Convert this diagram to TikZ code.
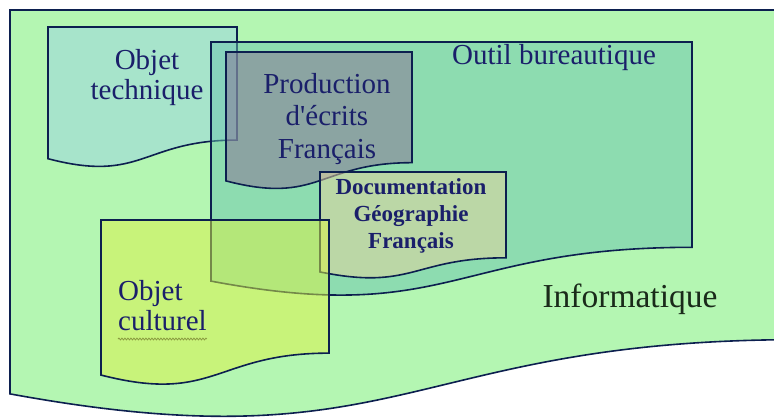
\documentclass[tikz,border=0pt]{standalone}
\usepackage{fontspec}
\setmainfont{Liberation Serif}
\usetikzlibrary{decorations.pathmorphing}

\definecolor{infogreen}{HTML}{B4F6B2}
\definecolor{outilteal}{HTML}{68C4B0}
\definecolor{techblue}{HTML}{9CD4E4}
\definecolor{prodgray}{HTML}{8A6E96}
\definecolor{docbeige}{HTML}{EAD49E}
\definecolor{cultyellow}{HTML}{DCF244}
\definecolor{edgenavy}{HTML}{0C1F4F}
\definecolor{labelnavy}{HTML}{1A1F6A}
\definecolor{infoink}{HTML}{1A2A1A}
\definecolor{spellwave}{HTML}{8A9A40}

% document shape: style, left, top, width, height (y grows downward)
\newcommand{\docshape}[5]{%
  \path[#1] (#2,#3) -- (#2+#4,#3) -- (#2+#4,#3+0.802*#5)
    .. controls (#2+0.5*#4,#3+0.802*#5) and (#2+0.5*#4,#3+1.1106*#5) .. (#2,#3+0.934*#5) -- cycle;}

\tikzset{
  docedge/.style={draw=edgenavy, line width=1.6pt, line join=miter},
  layer/.style={docedge, fill=#1, fill opacity=0.5},
  label/.style={text=labelnavy, inner sep=0pt, align=center,
    font=\fontsize{29}{30}\selectfont},
}

\begin{document}
\begin{tikzpicture}[x=1pt, y=-1pt]
                \useasboundingbox (0,0) rectangle (774,418);
                \clip (0,0) rectangle (774,418);

                % Drawing shape Informatique
                \docshape{docedge, fill=infogreen}{10}{10}{790}{411}

                % Drawing shape Objet technique
                \docshape{layer=techblue}{48}{27}{189}{141}

                % Drawing shape Outil bureautique
                \docshape{layer=outilteal}{211}{42}{481}{256}

                % Drawing shape Production d'ecrits
                \docshape{layer=prodgray}{226}{52}{186}{138}

                % Drawing shape Documentation
                \docshape{layer=docbeige}{320}{172}{186}{107}

                % Drawing shape Objet culturel
                \docshape{layer=cultyellow}{101}{220}{228}{166}

                % Labels
                \node [label] (tech) at (147,78) {Objet\\technique};
                \node [label, font=\fontsize{29}{32.5}\selectfont] (prod) at (327,119)
                  {Production\\d\textquotesingle écrits\\Français};
                \node [label, anchor=base] (outil) at (554,64) {Outil bureautique};
                \node [label, font=\bfseries\fontsize{23}{27}\selectfont] (doc) at (411,215.5)
                  {Documentation\\Géographie\\Français};
                \node [label, align=left, anchor=west] (cult) at (118,306) {Objet\\culturel};
                \node [label, text=infoink, anchor=base, font=\fontsize{33.5}{38}\selectfont]
                  (info) at (630,307) {Informatique};

                % Marking word culturel by wavy line
                \draw [spellwave, line width=0.8pt, decorate,
                  decoration={snake, segment length=3pt, amplitude=0.9pt}]
                  (cult.south west |- 0,339) -- (cult.south east |- 0,339);
\end{tikzpicture}
\end{document}
